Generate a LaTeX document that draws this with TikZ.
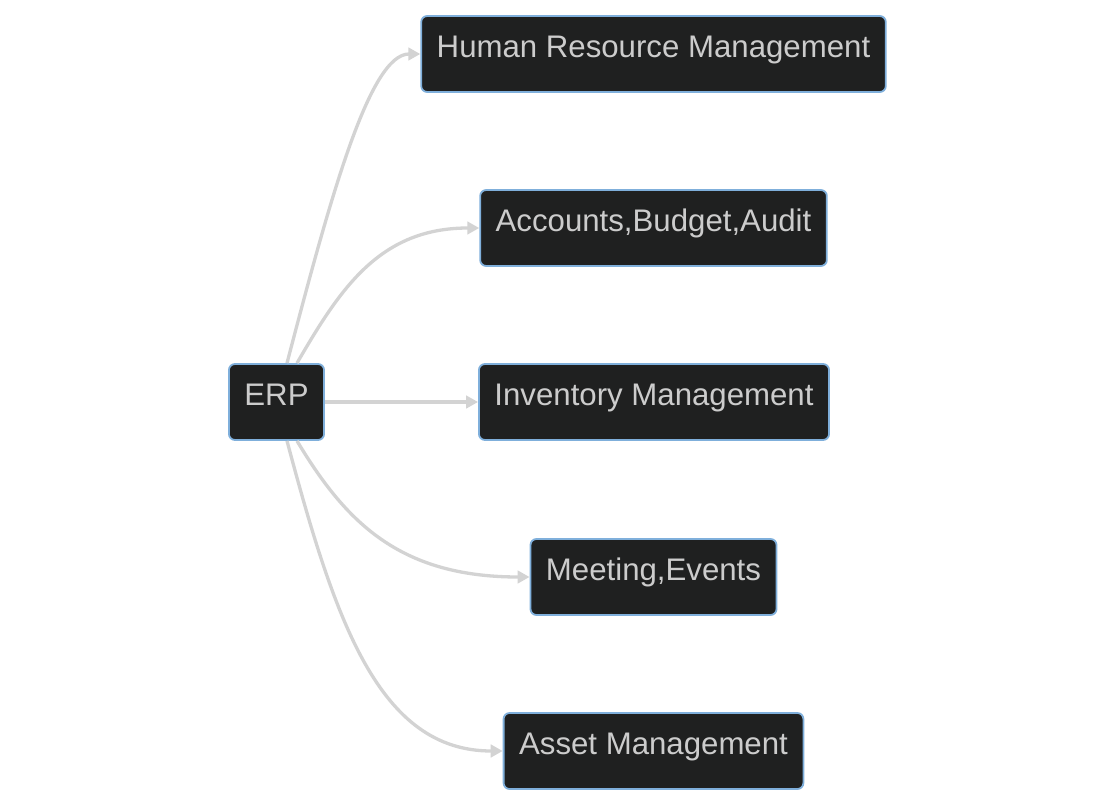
\documentclass[tikz,border=0pt]{standalone}
\usepackage{fontspec}
\setmainfont{Liberation Sans}
\usetikzlibrary{arrows.meta}
\definecolor{boxfill}{HTML}{1F2020}
\definecolor{boxline}{HTML}{7FAFDB}
\definecolor{boxtext}{HTML}{CCCCCC}
\definecolor{linkgray}{HTML}{D3D3D3}
\tikzset{
  module/.style={draw=boxline, fill=boxfill, text=boxtext, line width=1.8pt,
    rounded corners=6pt, inner xsep=15.5pt, inner ysep=0pt,
    text height=41.5pt, text depth=34.5pt, font=\fontsize{31.2}{37}\selectfont},
  link/.style={draw=linkgray, line width=3.3pt,
    -{Triangle[length=12pt,width=12.5pt]}}
}
\begin{document}
\begin{tikzpicture}[x=1pt,y=-1pt]
		\useasboundingbox (0,0) rectangle (1116,805);
		
		\node[module] (erp) at (276.5,402) {ERP};
		\node[module] (hrm) at (653.5,54) {Human Resource Management};
		\node[module] (acc) at (653.5,228) {Accounts,Budget,Audit};
		\node[module] (inv) at (654,402) {Inventory Management};
		\node[module] (meet) at (653.5,577) {Meeting,Events};
		\node[module] (asset) at (653.5,751) {Asset Management};
		
		\draw[link] ([xshift=10.5pt]erp.north) .. controls +(43,-164) and +(-51,0) .. (hrm.west);
		\draw[link] ([xshift=20.5pt]erp.north) .. controls +(43,-74) and +(-100,0) .. (acc.west);
		\draw[link] (erp.east) -- (inv.west);
		\draw[link] ([xshift=20.5pt]erp.south) .. controls +(48,80) and +(-131,0) .. (meet.west);
		\draw[link] ([xshift=10.5pt]erp.south) .. controls +(48,180) and +(-124,0) .. (asset.west);
		\end{tikzpicture}
\end{document}
